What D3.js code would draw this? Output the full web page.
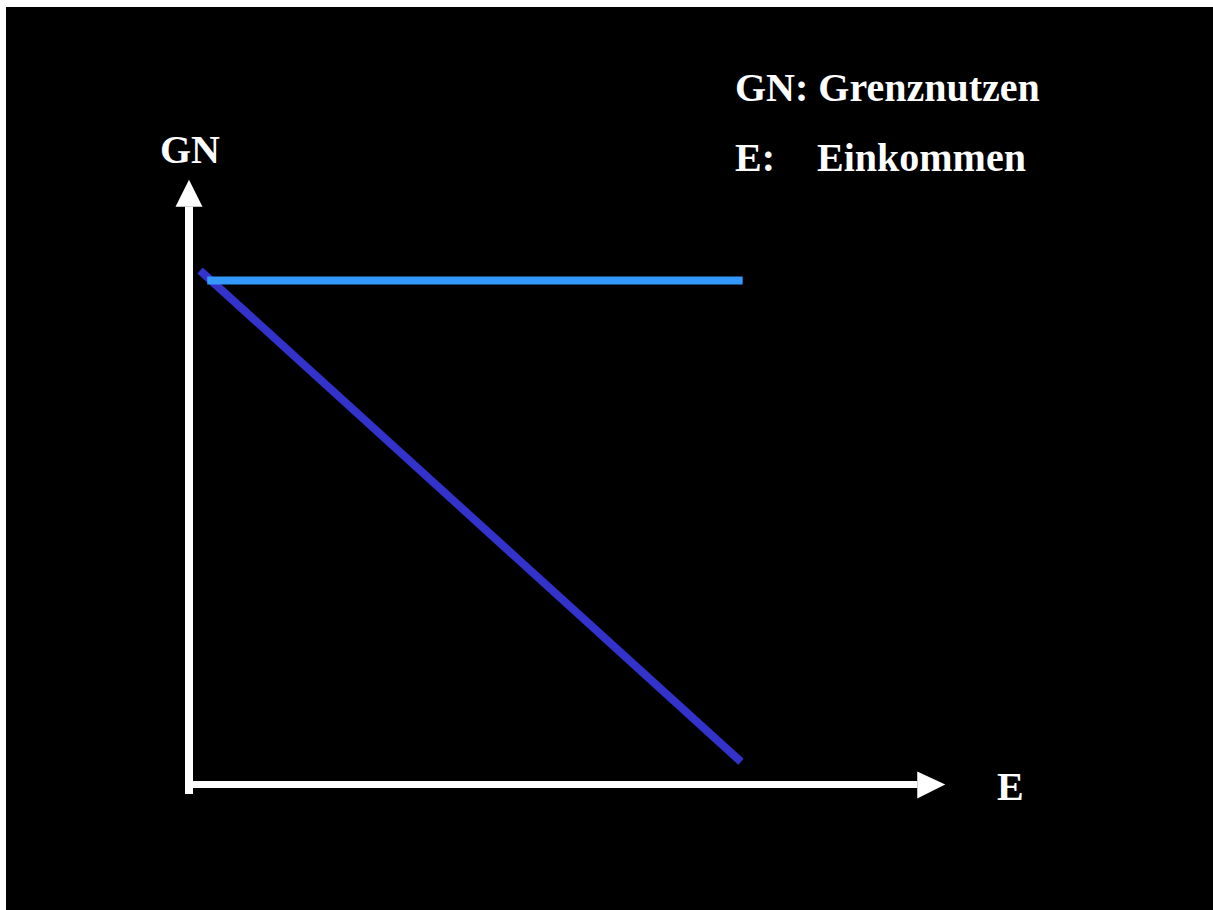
<!DOCTYPE html>
<html>
<head>
<meta charset="utf-8">
<script src="https://cdn.jsdelivr.net/npm/d3@7"></script>
<style>
  html, body { margin: 0; padding: 0; background: #fff; }
  svg { display: block; }
  text { font-family: "Liberation Serif", "Times New Roman", serif; font-weight: bold; fill: #fff; }
</style>
</head>
<body>
<div id="graph"></div>
<script>
// income (E) and marginal utility (GN)
var declineE = [0.2, 10]
var declineGN = [10.2, 0.45]
var flatE = [0.33, 10.03]
var flatGN = [10, 10]

var axisMax = {E: 13.7, GN: 12}
var legendLines = [['GN:', 'Grenznutzen'], ['E:', 'Einkommen']]

var W = 1213, H = 910
var svg = d3.select('#graph').append('svg').attr('width', W).attr('height', H)

svg.append('rect').attr('x', 6).attr('y', 7).attr('width', W - 6).attr('height', H - 7).attr('fill', '#000')

var x = d3.scaleLinear().domain([0, 10]).range([189, 741])
var y = d3.scaleLinear().domain([0, 10]).range([784.5, 280.5])

// axes with arrow heads
var ax = svg.append('g').attr('fill', '#fff')
ax.append('rect')
  .attr('x', x(0) - 4).attr('width', 8)
  .attr('y', y(axisMax.GN) + 27).attr('height', y(0) + 9.5 - y(axisMax.GN) - 27)
ax.append('path')
  .attr('d', d3.line()([[x(0) - 13.5, y(axisMax.GN) + 27], [x(0), y(axisMax.GN)], [x(0) + 13.5, y(axisMax.GN) + 27]]))
ax.append('rect')
  .attr('x', x(0) - 4).attr('width', x(axisMax.E) - 28 - x(0) + 4)
  .attr('y', y(0) - 3.5).attr('height', 7)
ax.append('path')
  .attr('d', d3.line()([[x(axisMax.E) - 28, y(0) - 13], [x(axisMax.E), y(0)], [x(axisMax.E) - 28, y(0) + 14]]))

var line = d3.line().x(d => x(d[0])).y(d => y(d[1]))

svg.append('path')
  .datum(d3.zip(declineE, declineGN))
  .attr('d', line)
  .attr('stroke', '#3333cc').attr('stroke-width', 8).attr('fill', 'none')

svg.append('path')
  .datum(d3.zip(flatE, flatGN))
  .attr('d', line)
  .attr('stroke', '#3399ff').attr('stroke-width', 8).attr('fill', 'none')

// axis labels
svg.append('text').attr('x', 160).attr('y', 163).attr('font-size', 40).text('GN')
svg.append('text').attr('x', 997).attr('y', 800).attr('font-size', 40).text('E')

// legend
var lg = svg.append('g').selectAll('g').data(legendLines).join('g')
  .attr('transform', (d, i) => 'translate(735,' + (101 + i * 70) + ')')
lg.append('text').attr('font-size', 40)
  .text(d => d[0] === 'GN:' ? d[0] + ' ' + d[1] : d[0])
lg.filter(d => d[0] !== 'GN:').append('text').attr('x', 82).attr('font-size', 40).text(d => d[1])
</script>
</body>
</html>
